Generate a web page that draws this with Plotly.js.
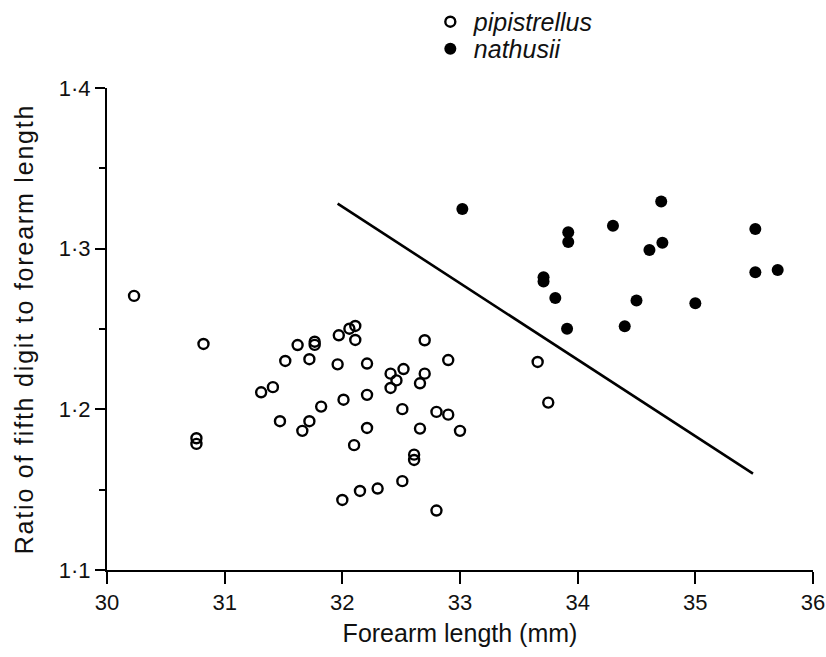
<!DOCTYPE html>
<html>
<head>
<meta charset="utf-8">
<script src="https://cdn.plot.ly/plotly-3.0.1.min.js"></script>
<style>html,body{margin:0;padding:0;background:#fff;}#chart{width:826px;height:657px;}
.ytitle{letter-spacing:1.8px;}
.g-ytitle{transform:translate(-18px,0px);}</style>
</head>
<body>
<div id="chart"></div>
<script>
// pipistrellus (open circles)
const pipX = [30.23, 30.82, 30.76, 30.76, 31.31, 31.41, 31.47, 31.515, 31.62, 31.66, 31.72, 31.72, 31.765, 31.765, 31.82, 31.96, 31.97, 32.01, 32.06, 32.11, 32.11, 32.10, 32.00, 32.15, 32.21, 32.70, 32.90, 32.41, 32.52, 32.46, 32.41, 32.70, 32.66, 32.21, 32.51, 32.80, 32.90, 32.21, 32.66, 33.00, 32.61, 32.61, 32.51, 32.30, 32.80, 33.66, 33.75];
const pipY = [1.2706, 1.2407, 1.1820, 1.1785, 1.2106, 1.2138, 1.1926, 1.2301, 1.2400, 1.1866, 1.1926, 1.2312, 1.2421, 1.2401, 1.2017, 1.2280, 1.2461, 1.2060, 1.2502, 1.2519, 1.2432, 1.1777, 1.1436, 1.1492, 1.2285, 1.2430, 1.2307, 1.2222, 1.2251, 1.2180, 1.2133, 1.2222, 1.2162, 1.2090, 1.2001, 1.1984, 1.1967, 1.1884, 1.1880, 1.1866, 1.1718, 1.1685, 1.1553, 1.1507, 1.1370, 1.2295, 1.2042];
// nathusii (filled circles)
const natX = [33.02, 33.92, 33.92, 34.30, 33.71, 33.71, 33.81, 33.91, 34.40, 34.50, 34.71, 34.72, 34.61, 35.00, 35.51, 35.51, 35.70];
const natY = [1.3247, 1.3102, 1.3042, 1.3143, 1.2822, 1.2795, 1.2693, 1.2502, 1.2517, 1.2677, 1.3293, 1.3037, 1.2992, 1.2660, 1.3123, 1.2853, 1.2867];
// discriminant line
const lineX = [31.96, 35.49];
const lineY = [1.328, 1.160];
// ticks
const xTickVals = [30, 31, 32, 33, 34, 35, 36];
const xTickText = ['30', '31', '32', '33', '34', '35', '36'];
const yTickVals = [1.1, 1.2, 1.3, 1.4];
const yTickText = ['1·1', '1·2', '1·3', '1·4'];

const FONT = 'Liberation Sans, Arial, Helvetica, sans-serif';

const traces = [
  {
    x: pipX, y: pipY, type: 'scatter', mode: 'markers', name: '<i>pipistrellus</i>',
    legend: 'legend',
    marker: {symbol: 'circle-open', size: 10, color: '#000', line: {width: 2.4, color: '#000'}},
    cliponaxis: false
  },
  {
    x: natX, y: natY, type: 'scatter', mode: 'markers', name: '<i>nathusii</i>',
    legend: 'legend2',
    marker: {symbol: 'circle', size: 12, color: '#000'},
    cliponaxis: false
  },
  {
    x: lineX, y: lineY, type: 'scatter', mode: 'lines', showlegend: false,
    line: {color: '#000', width: 2.6}, hoverinfo: 'skip'
  }
];

const legendBase = {
  xanchor: 'left', yanchor: 'middle',
  font: {family: FONT, size: 25, color: '#111'},
  itemwidth: 37,
  bgcolor: 'rgba(0,0,0,0)', borderwidth: 0
};

const layout = {
  width: 826, height: 657,
  paper_bgcolor: '#fff', plot_bgcolor: '#fff',
  margin: {l: 107, r: 13, t: 88, b: 87, pad: 0, autoexpand: false},
  font: {family: FONT, color: '#111', size: 22},
  showlegend: true,
  legend: Object.assign({x: 0.453, y: 1.137}, legendBase),
  legend2: Object.assign({x: 0.453, y: 1.081}, legendBase),
  xaxis: {
    range: [30, 36], tickmode: 'array', tickvals: xTickVals, ticktext: xTickText,
    showgrid: false, zeroline: false, showline: true, linecolor: '#000', linewidth: 2,
    ticks: 'outside', ticklen: 12, tickwidth: 2, tickcolor: '#000',
    tickfont: {family: FONT, size: 22, color: '#111'},
    title: {text: 'Forearm length (mm)', font: {family: FONT, size: 25, color: '#111'}, standoff: 10}
  },
  yaxis: {
    range: [1.1, 1.4], tickmode: 'array', tickvals: yTickVals, ticktext: yTickText,
    showgrid: false, zeroline: false, showline: true, linecolor: '#000', linewidth: 2,
    ticks: 'outside', ticklen: 10, tickwidth: 2, tickcolor: '#000',
    tickfont: {family: FONT, size: 22, color: '#111'},
    minor: {tickmode: 'linear', tick0: 1.15, dtick: 0.1, ticks: 'outside', ticklen: 6, tickwidth: 2, tickcolor: '#000', showgrid: false},
    title: {text: 'Ratio of fifth digit to forearm length', font: {family: FONT, size: 25, color: '#111'}, standoff: 0}
  }
};

Plotly.newPlot('chart', traces, layout, {displayModeBar: false, staticPlot: true});
</script>
</body>
</html>
